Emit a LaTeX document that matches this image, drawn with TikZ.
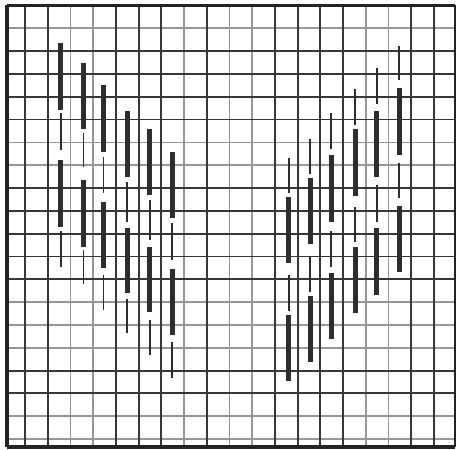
\documentclass[tikz,border=0pt]{standalone}
\usepackage{xcolor}
\definecolor{gridDark}{RGB}{55,55,55}
\definecolor{gridLight}{RGB}{150,150,150}
\definecolor{barInk}{RGB}{45,45,45}
\definecolor{frameInk}{RGB}{35,35,35}
\usepackage{tikz}

\begin{document}
\begin{tikzpicture}[x=0.5cm, y=-0.5022cm,
  darkline/.style={gridDark, line width=1.15pt},
  lightline/.style={gridLight, line width=1.1pt},
  body/.style={fill=barInk},
  wick/.style={barInk, line width=1.1pt}]
  \useasboundingbox (-1.1004,-1.2401) rectangle (19.014,18.436);
  \fill[white] (-1.1004,-1.2401) rectangle (19.014,18.436);

  % Grid
  \foreach \k in {2,3,7,9,10,15,16}
    \draw[lightline] (\k,-1.0) -- (\k,18.35);
  \foreach \k in {0,5,6,12,13,14,17,18}
    \draw[lightline] (-0.79,\k) -- (18.93,\k);
  \foreach \k in {0,1,4,5,6,8,11,12,13,14,17,18}
    \draw[darkline] (\k,-1.0) -- (\k,18.35);
  \foreach \k in {1,2,3,4,7,8,9,10,11,15,16}
    \draw[darkline] (-0.79,\k) -- (18.93,\k);

  % Frame
  \draw[frameInk, line width=2.6pt] (-0.79,-1.0) -- (-0.79,18.35);
  \draw[frameInk, line width=2.2pt] (-0.79,-1.0) -- (18.93,-1.0);
  \draw[frameInk, line width=1.4pt] (18.93,-1.0) -- (18.93,18.35);
  \draw[frameInk, line width=2.0pt] (-0.79,18.35) -- (18.93,18.35);

  % --- Left group (falling) ---
  % Column 1
  \fill[body] (1.47,0.64) rectangle (1.69,3.58);
  \draw[wick] (1.58,3.71) -- (1.58,5.33);
  \fill[body] (1.47,5.77) rectangle (1.69,8.71);
  \draw[wick] (1.58,8.88) -- (1.58,10.46);
  % Column 2
  \fill[body] (2.46,1.52) rectangle (2.68,4.41);
  \draw[wick] (2.57,4.59) -- (2.57,6.08);
  \fill[body] (2.46,6.65) rectangle (2.68,9.58);
  \draw[wick] (2.57,9.72) -- (2.57,11.20);
  % Column 3
  \fill[body] (3.34,2.48) rectangle (3.56,5.42);
  \draw[wick] (3.45,5.64) -- (3.45,7.22);
  \fill[body] (3.34,7.61) rectangle (3.56,10.50);
  \draw[wick] (3.45,10.81) -- (3.45,12.34);
  % Column 4
  \fill[body] (4.38,3.62) rectangle (4.60,6.52);
  \draw[wick] (4.49,6.74) -- (4.49,8.49);
  \fill[body] (4.38,8.75) rectangle (4.60,11.60);
  \draw[wick] (4.49,11.86) -- (4.49,13.35);
  % Column 5
  \fill[body] (5.38,4.41) rectangle (5.60,7.31);
  \draw[wick] (5.49,7.52) -- (5.49,9.28);
  \fill[body] (5.38,9.58) rectangle (5.60,12.43);
  \draw[wick] (5.49,12.78) -- (5.49,14.32);
  % Column 6
  \fill[body] (6.37,5.42) rectangle (6.59,8.31);
  \draw[wick] (6.48,8.53) -- (6.48,10.15);
  \fill[body] (6.37,10.55) rectangle (6.59,13.44);
  \draw[wick] (6.48,13.75) -- (6.48,15.32);

  % --- Right group (rising) ---
  % Column 1
  \draw[wick] (11.61,5.68) -- (11.61,7.22);
  \fill[body] (11.50,7.39) rectangle (11.72,10.29);
  \draw[wick] (11.61,10.81) -- (11.61,12.39);
  \fill[body] (11.50,12.56) rectangle (11.72,15.46);
  % Column 2
  \draw[wick] (12.56,4.85) -- (12.56,6.38);
  \fill[body] (12.45,6.56) rectangle (12.67,9.45);
  \draw[wick] (12.56,10.02) -- (12.56,11.56);
  \fill[body] (12.45,11.73) rectangle (12.67,14.62);
  % Column 3
  \draw[wick] (13.48,3.71) -- (13.48,5.29);
  \fill[body] (13.37,5.55) rectangle (13.59,8.49);
  \draw[wick] (13.48,8.88) -- (13.48,10.46);
  \fill[body] (13.37,10.72) rectangle (13.59,13.61);
  % Column 4
  \draw[wick] (14.54,2.66) -- (14.54,4.24);
  \fill[body] (14.43,4.41) rectangle (14.65,7.35);
  \draw[wick] (14.54,7.83) -- (14.54,9.36);
  \fill[body] (14.43,9.58) rectangle (14.65,12.48);
  % Column 5
  \draw[wick] (15.49,1.74) -- (15.49,3.32);
  \fill[body] (15.38,3.62) rectangle (15.60,6.52);
  \draw[wick] (15.49,6.87) -- (15.49,8.49);
  \fill[body] (15.38,8.75) rectangle (15.60,11.69);
  % Column 6
  \draw[wick] (16.47,0.78) -- (16.47,2.27);
  \fill[body] (16.36,2.62) rectangle (16.58,5.55);
  \draw[wick] (16.47,5.90) -- (16.47,7.44);
  \fill[body] (16.36,7.79) rectangle (16.58,10.68);
\end{tikzpicture}
\end{document}
